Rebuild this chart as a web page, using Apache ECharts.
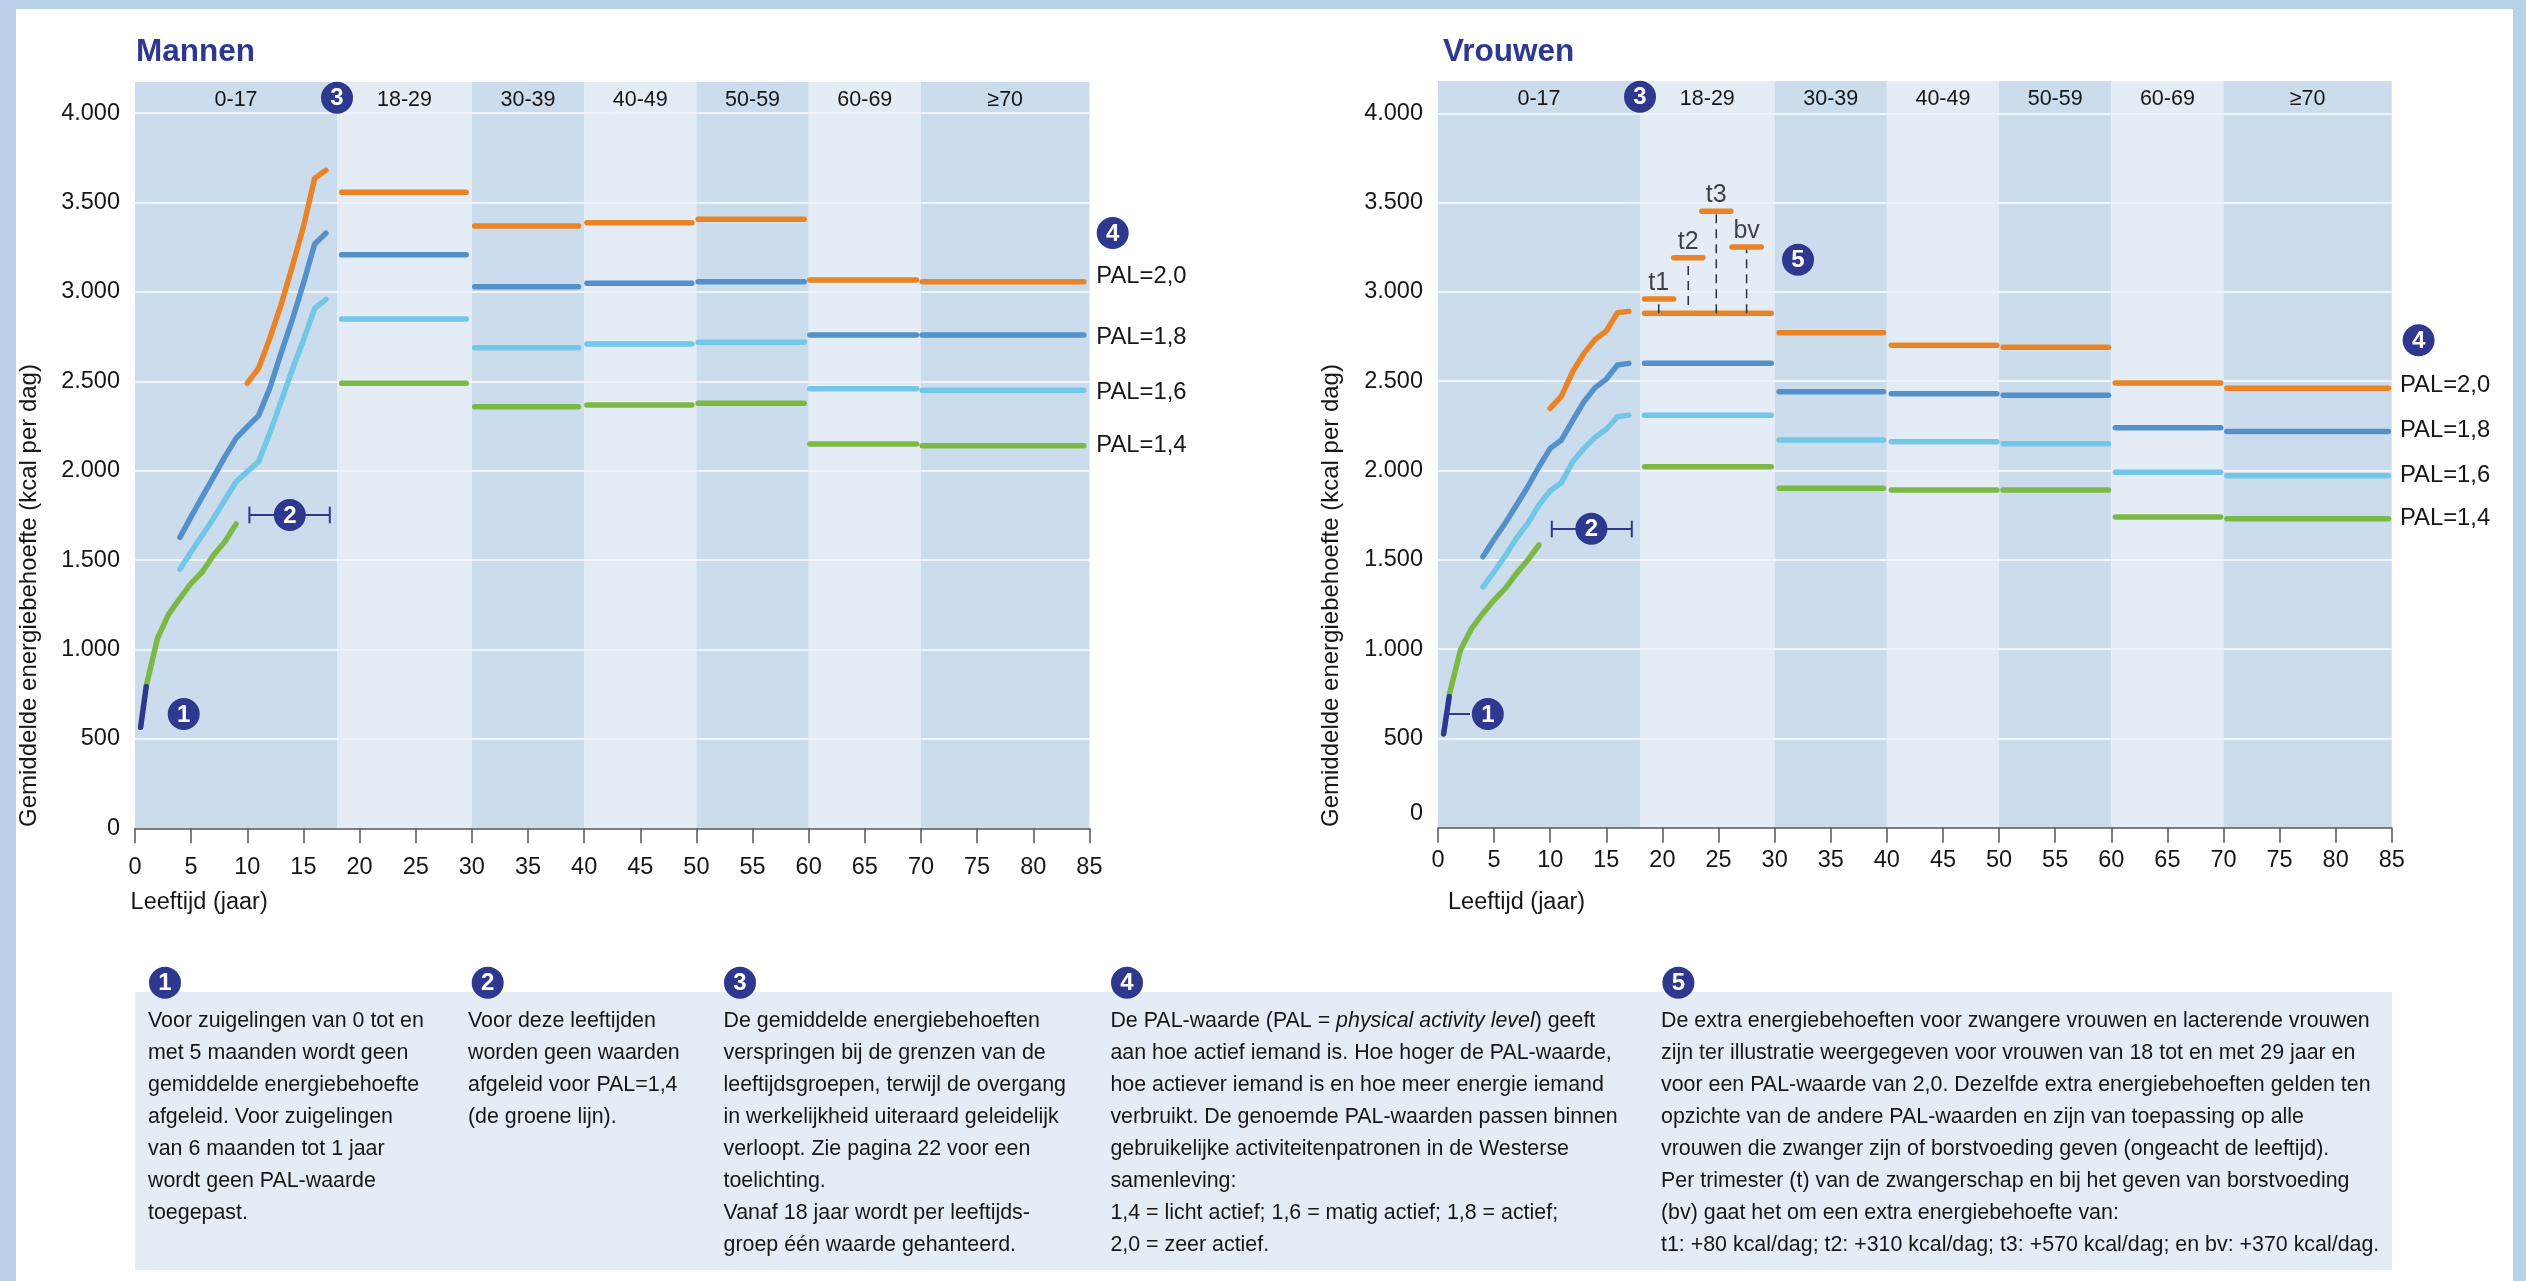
<!DOCTYPE html>
<html>
<head>
<meta charset="utf-8">
<title>Gemiddelde energiebehoefte</title>
<script src="https://cdn.jsdelivr.net/npm/echarts@6/dist/echarts.min.js"></script>
<style>
html, body { margin: 0; padding: 0; background: #fff; }
#chart { width: 2526px; height: 1281px; }
</style>
</head>
<body>
<div id="chart"></div>
<script>
// leeftijdsbanden
var bandGrenzen = [[0, 18], [18, 30], [30, 40], [40, 50], [50, 60], [60, 70], [70, 85]];
var bandNamen = ['0-17', '18-29', '30-39', '40-49', '50-59', '60-69', '≥70'];

// kinderen: leeftijden per lijn
var leeftijdBaby = [0.5, 1];
var leeftijd14 = [1, 2, 3, 4, 5, 6, 7, 8, 9];
var leeftijd16 = [4, 5, 6, 7, 8, 9, 10, 11, 12, 13, 14, 15, 16, 17];
var leeftijd18 = [4, 5, 6, 7, 8, 9, 10, 11, 12, 13, 14, 15, 16, 17];
var leeftijd20 = [10, 11, 12, 13, 14, 15, 16, 17];

// mannen
var mannenBaby = [565, 792];
var mannenKind14 = [795, 1062, 1198, 1286, 1370, 1435, 1528, 1603, 1702];
var mannenKind16 = [1449, 1547, 1640, 1734, 1836, 1938, 1995, 2050, 2209, 2386, 2563, 2731, 2908, 2958];
var mannenKind18 = [1627, 1743, 1855, 1966, 2077, 2181, 2246, 2308, 2461, 2656, 2843, 3048, 3268, 3328];
var mannenKind20 = [2489, 2572, 2740, 2926, 3141, 3365, 3635, 3680];
var mannenGroepen = [[18.4, 29.5], [30.25, 39.5], [40.25, 49.6], [50.15, 59.6], [60.1, 69.6], [70.1, 84.5]];
var mannen14 = [2489, 2358, 2367, 2377, 2149, 2140];
var mannen16 = [2848, 2688, 2708, 2718, 2459, 2450];
var mannen18 = [3208, 3029, 3048, 3057, 2759, 2759];
var mannen20 = [3557, 3369, 3387, 3407, 3067, 3057];

// vrouwen
var vrouwenBaby = [525, 733];
var vrouwenKind14 = [743, 995, 1116, 1200, 1275, 1340, 1424, 1499, 1583];
var vrouwenKind16 = [1349, 1433, 1523, 1622, 1704, 1807, 1887, 1932, 2049, 2124, 2186, 2231, 2301, 2310];
var vrouwenKind18 = [1517, 1615, 1706, 1807, 1909, 2021, 2124, 2171, 2279, 2385, 2464, 2512, 2591, 2600];
var vrouwenKind20 = [2348, 2417, 2553, 2656, 2734, 2781, 2884, 2891];
var vrouwenGroepen = [[18.4, 29.7], [30.4, 39.7], [40.4, 49.8], [50.36, 59.75], [60.36, 69.75], [70.3, 84.7]];
var vrouwen14 = [2021, 1900, 1891, 1891, 1740, 1730];
var vrouwen16 = [2310, 2171, 2161, 2150, 1990, 1971];
var vrouwen18 = [2600, 2441, 2430, 2421, 2240, 2219];
var vrouwen20 = [2880, 2771, 2701, 2690, 2490, 2460];

// zwangerschap en borstvoeding
var extraNamen = ['t1', 't2', 't3', 'bv'];
var extraGroepen = [[18.4, 21], [21, 23.6], [23.5, 26.1], [26.2, 28.8]];
var extraWaarden = [2960, 3192, 3451, 3251];
var extraStam = [19.67, 22.3, 24.8, 27.5];
var extraStamBasis = [2880, 2927, 2880, 2880];

// teksten
var yTickWaarden = 500;
var yMaxMannen = 4174;
var yMaxVrouwen = 4181;
var yTitel = 'Gemiddelde energiebehoefte (kcal per dag)';
var xTitel = 'Leeftijd (jaar)';
var palNamen = ['PAL=2,0', 'PAL=1,8', 'PAL=1,6', 'PAL=1,4'];
var tekst1 = ['Voor zuigelingen van 0 tot en', 'met 5 maanden wordt geen', 'gemiddelde energiebehoefte', 'afgeleid. Voor zuigelingen', 'van 6 maanden tot 1 jaar', 'wordt geen PAL-waarde', 'toegepast.'];
var tekst2 = ['Voor deze leeftijden', 'worden geen waarden', 'afgeleid voor PAL=1,4', '(de groene lijn).'];
var tekst3 = ['De gemiddelde energiebehoeften', 'verspringen bij de grenzen van de', 'leeftijdsgroepen, terwijl de overgang', 'in werkelijkheid uiteraard geleidelijk', 'verloopt. Zie pagina 22 voor een', 'toelichting.', 'Vanaf 18 jaar wordt per leeftijds-', 'groep één waarde gehanteerd.'];
var tekst4 = ['De PAL-waarde (PAL = {i|physical activity level}) geeft', 'aan hoe actief iemand is. Hoe hoger de PAL-waarde,', 'hoe actiever iemand is en hoe meer energie iemand', 'verbruikt. De genoemde PAL-waarden passen binnen', 'gebruikelijke activiteitenpatronen in de Westerse', 'samenleving:', '1,4 = licht actief; 1,6 = matig actief; 1,8 = actief;', '2,0 = zeer actief.'];
var tekst5 = ['De extra energiebehoeften voor zwangere vrouwen en lacterende vrouwen', 'zijn ter illustratie weergegeven voor vrouwen van 18 tot en met 29 jaar en', 'voor een PAL-waarde van 2,0. Dezelfde extra energiebehoeften gelden ten', 'opzichte van de andere PAL-waarden en zijn van toepassing op alle', 'vrouwen die zwanger zijn of borstvoeding geven (ongeacht de leeftijd).', 'Per trimester (t) van de zwangerschap en bij het geven van borstvoeding', '(bv) gaat het om een extra energiebehoefte van:', 't1: +80 kcal/dag; t2: +310 kcal/dag; t3: +570 kcal/dag; en bv: +370 kcal/dag.'];

var FONT = '"Liberation Sans", Arial, sans-serif';
var NAVY = '#2d388e';
var ORANJE = '#ea8325';
var BLAUW = '#5490c9';
var LICHTBLAUW = '#72c6e7';
var GROEN = '#7cb944';
var BAND_DONKER = '#cbdcec';
var BAND_LICHT = '#e4ecf6';
var TEKST = '#161616';
var BLOK_FONT = 21.4;

/**
 * Punten voor een PAL-lijn: eerst de kinderjaren, daarna een los streepje per leeftijdsgroep
 */
function lijnData(leeftijden, kind, groepen, waarden) {
	var data = [];
	for (var i = 0; i < leeftijden.length; i++) {
		data.push([leeftijden[i], kind[i]]);
	}
	for (var j = 0; j < groepen.length; j++) {
		data.push([groepen[j][0], null]);
		data.push([groepen[j][0], waarden[j]]);
		data.push([groepen[j][1], waarden[j]]);
	}
	return data;
}

function lijnSerie(naam, kleur, as, data) {
	return {
		name: naam,
		type: 'line',
		xAxisIndex: as,
		yAxisIndex: as,
		z: 3,
		showSymbol: false,
		symbol: 'none',
		connectNulls: false,
		lineStyle: { color: kleur, width: 5.5, cap: 'round', join: 'round' },
		data: data
	};
}

function zipPunten(x, y) {
	var data = [];
	for (var i = 0; i < x.length; i++) {
		data.push([x[i], y[i]]);
	}
	return data;
}

// achtergrondbanden met de naam van de leeftijdsgroep
function bandSerie(as, yMax) {
	var banden = [];
	for (var i = 0; i < bandGrenzen.length; i++) {
		banden.push([{
			name: bandNamen[i],
			xAxis: bandGrenzen[i][0],
			yAxis: yMax,
			itemStyle: { color: i % 2 == 0 ? BAND_DONKER : BAND_LICHT }
		}, {
			xAxis: bandGrenzen[i][1],
			yAxis: 0
		}]);
	}
	return {
		type: 'line',
		xAxisIndex: as,
		yAxisIndex: as,
		z: 1,
		symbol: 'none',
		data: [],
		markArea: {
			silent: true,
			z: 1,
			label: {
				show: true,
				position: 'insideTop',
				distance: 7,
				color: TEKST,
				fontFamily: FONT,
				fontSize: 21.5
			},
			data: banden
		}
	};
}

function xAs(index, marge) {
	return {
		type: 'value',
		gridIndex: index,
		min: 0,
		max: 85,
		interval: 5,
		z: 4,
		splitLine: { show: false },
		axisLine: { show: true, onZero: false, lineStyle: { color: '#555', width: 1.5 } },
		axisTick: { show: true, length: 15, lineStyle: { color: '#555', width: 1.5 } },
		axisLabel: { margin: marge, color: TEKST, fontFamily: FONT, fontSize: 23.5, showMinLabel: true, showMaxLabel: true }
	};
}

function yAs(index, max, nulOmhoog) {
	return {
		type: 'value',
		gridIndex: index,
		min: 0,
		max: max,
		interval: yTickWaarden,
		z: 2,
		axisLine: { show: false },
		axisTick: { show: false },
		splitLine: { show: true, showMinLine: false, showMaxLine: false, lineStyle: { color: '#f1f5fb', width: 2 } },
		axisLabel: {
			margin: 15,
			color: TEKST,
			fontFamily: FONT,
			fontSize: 23.5,
			showMaxLabel: false,
			formatter: function (value) {
				if (value > 4000) {
					return '';
				}
				if (value == 0) {
					return nulOmhoog ? '{nul|0}' : '0';
				}
				var s = String(value);
				return s.length > 3 ? s.slice(0, s.length - 3) + '.' + s.slice(-3) : s;
			},
			rich: {
				nul: { color: TEKST, fontFamily: FONT, fontSize: 23.5, padding: [0, 0, 29, 0] }
			}
		}
	};
}

function tekstEl(tekst, x, y, size, opties) {
	var o = opties || {};
	return {
		type: 'text',
		x: x,
		y: y,
		rotation: o.rotation || 0,
		z: 20,
		silent: true,
		style: {
			text: tekst,
			fill: o.fill || TEKST,
			font: (o.bold ? 'bold ' : '') + size + 'px ' + FONT,
			align: o.align || 'left',
			verticalAlign: 'middle',
			rich: o.rich
		}
	};
}

function badge(nummer, x, y) {
	return [{
		type: 'circle',
		z: 19,
		silent: true,
		shape: { cx: x, cy: y, r: 16 },
		style: { fill: NAVY }
	}, tekstEl(String(nummer), x, y + 1, 24, { fill: '#fff', bold: true, align: 'center' })];
}

function streep(x1, y1, x2, y2) {
	return {
		type: 'line',
		z: 18,
		silent: true,
		shape: { x1: x1, y1: y1, x2: x2, y2: y2 },
		style: { stroke: NAVY, lineWidth: 2 }
	};
}

function tekstBlok(regels, x) {
	var rich = { i: { font: 'italic ' + BLOK_FONT + 'px ' + FONT, fill: TEKST } };
	return regels.map(function (regel, i) {
		return tekstEl(regel, x, 1020.7 + i * 32, BLOK_FONT, { rich: rich });
	});
}

function rechthoek(x, y, w, h, kleur) {
	return { type: 'rect', z: 0, silent: true, shape: { x: x, y: y, width: w, height: h }, style: { fill: kleur } };
}

function initGraphic() {
	var el = [];
	// kader en onderste vlak
	el.push(rechthoek(0, 0, 2526, 9, '#b8d0e8'));
	el.push(rechthoek(0, 0, 16, 1281, '#b8d0e8'));
	el.push(rechthoek(2513, 0, 13, 1281, '#b8d0e8'));
	el.push(rechthoek(135, 992, 2257, 278, BAND_LICHT));

	// astitels
	el.push(tekstEl(yTitel, 29.6, 827, 24, { rotation: Math.PI / 2 }));
	el.push(tekstEl(yTitel, 1331.6, 827, 24, { rotation: Math.PI / 2 }));
	el.push(tekstEl(xTitel, 130.6, 902.7, 23.5));
	el.push(tekstEl(xTitel, 1448, 902.7, 23.5));

	// PAL-namen
	var palYMannen = [276.7, 337.3, 392, 445.3];
	var palYVrouwen = [385, 430.3, 475, 518.3];
	for (var i = 0; i < palNamen.length; i++) {
		el.push(tekstEl(palNamen[i], 1096.3, palYMannen[i], 23.8));
		el.push(tekstEl(palNamen[i], 2400, palYVrouwen[i], 23.8));
	}

	// verwijzingen in de grafieken
	el.push(streep(249.4, 515, 329.8, 515), streep(249.4, 506.7, 249.4, 523.3), streep(329.8, 506.7, 329.8, 523.3));
	el.push(streep(1551.8, 529, 1631.8, 529), streep(1551.8, 520.7, 1551.8, 537.3), streep(1631.8, 520.7, 1631.8, 537.3));
	el.push(streep(1446, 714, 1470, 714));
	el = el.concat(badge(3, 337, 97.7), badge(1, 183.7, 714), badge(2, 289.8, 515), badge(4, 1112.7, 233));
	el = el.concat(badge(3, 1640, 96.7), badge(1, 1487.8, 714), badge(2, 1591.4, 528.7), badge(5, 1798, 259.7), badge(4, 2418.6, 340.3));

	// toelichting onder de grafieken
	el = el.concat(badge(1, 165, 982.7), badge(2, 487.7, 982.7), badge(3, 740, 982.7), badge(4, 1127, 982.7), badge(5, 1678.4, 982.7));
	el = el.concat(tekstBlok(tekst1, 148), tekstBlok(tekst2, 468), tekstBlok(tekst3, 723.5), tekstBlok(tekst4, 1110.4), tekstBlok(tekst5, 1661));
	return el;
}

function initSeries() {
	var series = [bandSerie(0, yMaxMannen), bandSerie(1, yMaxVrouwen)];

	series.push(lijnSerie('PAL=1,4', GROEN, 0, lijnData(leeftijd14, mannenKind14, mannenGroepen, mannen14)));
	series.push(lijnSerie('PAL=1,6', LICHTBLAUW, 0, lijnData(leeftijd16, mannenKind16, mannenGroepen, mannen16)));
	series.push(lijnSerie('PAL=1,8', BLAUW, 0, lijnData(leeftijd18, mannenKind18, mannenGroepen, mannen18)));
	series.push(lijnSerie('PAL=2,0', ORANJE, 0, lijnData(leeftijd20, mannenKind20, mannenGroepen, mannen20)));
	series.push(lijnSerie('Baby', NAVY, 0, zipPunten(leeftijdBaby, mannenBaby)));

	series.push(lijnSerie('PAL=1,4', GROEN, 1, lijnData(leeftijd14, vrouwenKind14, vrouwenGroepen, vrouwen14)));
	series.push(lijnSerie('PAL=1,6', LICHTBLAUW, 1, lijnData(leeftijd16, vrouwenKind16, vrouwenGroepen, vrouwen16)));
	series.push(lijnSerie('PAL=1,8', BLAUW, 1, lijnData(leeftijd18, vrouwenKind18, vrouwenGroepen, vrouwen18)));
	series.push(lijnSerie('PAL=2,0', ORANJE, 1, lijnData(leeftijd20, vrouwenKind20, vrouwenGroepen, vrouwen20)));
	series.push(lijnSerie('Baby', NAVY, 1, zipPunten(leeftijdBaby, vrouwenBaby)));

	// extra behoefte: streepje, stippellijn en naam
	for (var i = 0; i < extraNamen.length; i++) {
		series.push({
			type: 'line',
			xAxisIndex: 1,
			yAxisIndex: 1,
			z: 3,
			symbol: 'none',
			lineStyle: { color: '#333', width: 1.5, type: [9, 6] },
			data: [[extraStam[i], extraStamBasis[i]], [extraStam[i], extraWaarden[i]]]
		});
		series.push(lijnSerie(extraNamen[i], ORANJE, 1, [[extraGroepen[i][0], extraWaarden[i]], [extraGroepen[i][1], extraWaarden[i]]]));
		series.push({
			type: 'scatter',
			xAxisIndex: 1,
			yAxisIndex: 1,
			z: 3,
			symbolSize: 1,
			itemStyle: { color: 'rgba(0,0,0,0)' },
			label: {
				show: true,
				position: 'top',
				distance: 3,
				formatter: extraNamen[i],
				color: TEKST,
				fontFamily: FONT,
				fontSize: 25
			},
			data: [[extraStam[i], extraWaarden[i]]]
		});
	}
	return series;
}

function initChart() {
	var myChart = echarts.init(document.getElementById('chart'));
	var titelStijl = { color: NAVY, fontFamily: FONT, fontSize: 31.5, fontWeight: 'bold' };
	var option = {
		backgroundColor: '#fff',
		animation: false,
		title: [
			{ text: 'Mannen', left: 136, top: 36, padding: 0, textStyle: titelStijl },
			{ text: 'Vrouwen', left: 1443, top: 36, padding: 0, textStyle: titelStijl }
		],
		grid: [
			{ left: 135, top: 82, width: 954.4, height: 746.3 },
			{ left: 1438, top: 81, width: 953.8, height: 746.7 }
		],
		xAxis: [xAs(0, 27), xAs(1, 21)],
		yAxis: [yAs(0, yMaxMannen, false), yAs(1, yMaxVrouwen, true)],
		series: initSeries(),
		graphic: { elements: initGraphic() }
	};
	myChart.setOption(option);
	window.onresize = myChart.resize;
}

initChart();
</script>
</body>
</html>
